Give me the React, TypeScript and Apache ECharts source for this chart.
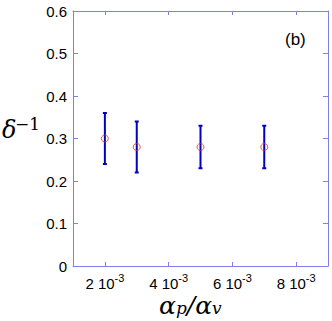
import React, { useEffect, useRef } from "react";
import * as echarts from "echarts";

// x values in units of 10^-3
const xValues = [2, 3, 5, 7];
const yValues = [0.3, 0.28, 0.28, 0.28];
const errLow = [0.24, 0.22, 0.23, 0.23];
const errHigh = [0.36, 0.34, 0.33, 0.33];
const xTickValues = [2, 4, 6, 8];
const yTickValues = [0, 0.1, 0.2, 0.3, 0.4, 0.5, 0.6];

const AXIS_COLOR = "#7f7fe6";
const ERR_COLOR = "#0000c0";
const MARK_COLOR = "#e0302a";

export default function App() {
  const ref = useRef<HTMLDivElement>(null);
  useEffect(() => {
    if (!ref.current) return;
    const chart = echarts.init(ref.current, undefined, { renderer: "svg" });
    const xMin = 1;
    const xMax = 9;
    const baseX = (pos: string) => ({
      type: "value",
      position: pos,
      min: xMin,
      max: xMax,
      axisLine: { show: true, onZero: false, lineStyle: { color: AXIS_COLOR, width: 1 } },
      axisTick: { show: true, inside: true, length: 4, customValues: xTickValues, lineStyle: { color: AXIS_COLOR } },
      splitLine: { show: false },
    });
    const baseY = (pos: string) => ({
      type: "value",
      position: pos,
      min: 0,
      max: 0.6,
      interval: 0.1,
      axisLine: { show: true, onZero: false, lineStyle: { color: AXIS_COLOR, width: 1 } },
      axisTick: { show: true, inside: true, length: 5, lineStyle: { color: AXIS_COLOR } },
      splitLine: { show: false },
    });
    chart.setOption({
      animation: false,
      grid: { left: 73, right: 4, top: 11, bottom: 55, containLabel: false },
      xAxis: [
        {
          ...baseX("bottom"),
          axisLabel: {
            show: true,
            customValues: xTickValues,
            margin: 6,
            formatter: (v: number) => `{a|${v} 10}{s|-3}`,
            rich: {
              a: { fontFamily: "Liberation Sans", fontSize: 15, color: "#000", lineHeight: 19, verticalAlign: "bottom" },
              s: { fontFamily: "Liberation Sans", fontSize: 11, color: "#000", lineHeight: 19, verticalAlign: "top" },
            },
          },
        },
        { ...baseX("top"), axisLabel: { show: false } },
      ],
      yAxis: [
        {
          ...baseY("left"),
          axisLabel: {
            show: true,
            margin: 6,
            fontFamily: "Liberation Sans",
            fontSize: 15,
            color: "#000",
            customValues: yTickValues,
            formatter: (v: number) => (v === 0 ? "0" : v.toFixed(1)),
          },
        },
        { ...baseY("right"), axisLabel: { show: false } },
      ],
      graphic: [
        {
          type: "text",
          left: 285,
          top: 31,
          style: { text: "(b)", fontFamily: "Liberation Sans", fontSize: 17, fill: "#000" },
        },
        {
          type: "text",
          x: 2,
          y: 142,
          style: { text: "δ", fontFamily: "DejaVu Serif", fontStyle: "italic", fontSize: 24, fill: "#000", textVerticalAlign: "bottom" },
        },
        {
          type: "text",
          x: 15,
          y: 132,
          style: { text: "−1", fontFamily: "DejaVu Serif", fontSize: 17, fill: "#000", textVerticalAlign: "bottom" },
        },
        {
          type: "text",
          x: 159,
          y: 318,
          style: {
            text: "{a|α}{s|p}{a|/α}{s|v}",
            textVerticalAlign: "bottom",
            rich: {
              a: { fontFamily: "DejaVu Serif", fontStyle: "italic", fontSize: 25, fill: "#000" },
              s: { fontFamily: "DejaVu Serif", fontStyle: "italic", fontSize: 17, fill: "#000", padding: [5, 0, 0, 0] },
            },
          },
        },
      ],
      series: [
        {
          type: "custom",
          xAxisIndex: 0,
          yAxisIndex: 0,
          data: xValues.map((x, i) => [x, errLow[i], errHigh[i]]),
          renderItem: (_params: any, api: any) => {
            const x = api.value(0);
            const top = api.coord([x, api.value(2)]);
            const bot = api.coord([x, api.value(1)]);
            const w = 2;
            const style = { stroke: ERR_COLOR, lineWidth: 2 };
            return {
              type: "group",
              children: [
                { type: "line", shape: { x1: top[0], y1: top[1], x2: bot[0], y2: bot[1] }, style },
                { type: "line", shape: { x1: top[0] - w, y1: top[1], x2: top[0] + w, y2: top[1] }, style },
                { type: "line", shape: { x1: bot[0] - w, y1: bot[1], x2: bot[0] + w, y2: bot[1] }, style },
              ],
            };
          },
          z: 2,
        },
        {
          type: "scatter",
          data: xValues.map((x, i) => [x, yValues[i]]),
          symbol: "circle",
          symbolSize: 7,
          itemStyle: { color: "rgba(255,255,255,0)", borderColor: MARK_COLOR, borderWidth: 1 },
          z: 3,
        },
      ],
    });
    return () => chart.dispose();
  }, []);
  return (
    <div
      ref={ref}
      style={{ position: "fixed", left: 0, top: 0, width: 332, height: 321, background: "#fff" }}
    />
  );
}
